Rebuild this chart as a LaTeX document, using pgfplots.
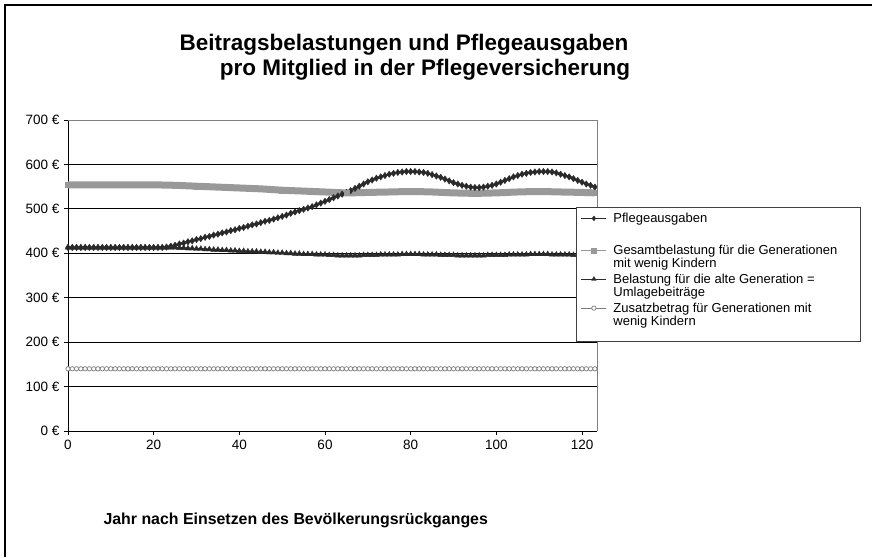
\documentclass[border=0pt]{standalone}
\usepackage{fontspec}
\setmainfont{Liberation Sans}
\usepackage{pgfplots}
\usepackage{pgfplotstable}
\pgfplotsset{compat=1.18}

\definecolor{dark}{HTML}{2A2A2A}
\definecolor{lgray}{HTML}{999999}
\definecolor{cgray}{HTML}{7A7A7A}

% x  Pflegeausgaben  Belastung alte Generation  Zusatzbetrag
\pgfplotstableread{
x P B Z
0 413 413 140
1 413 413 140
2 413 413 140
3 413 413 140
4 413 413 140
5 413 413 140
6 413 413 140
7 413 413 140
8 413 413 140
9 413 413 140
10 413 413 140
11 413 413 140
12 413 413 140
13 413 413 140
14 413 413 140
15 413 413 140
16 413 413 140
17 413 413 140
18 413 413 140
19 413 413 140
20 413 413 140
21 413 413 140
22 413 413 140
23 414 413 140
24 416 413 140
25 418 413 140
26 421 412 140
27 423 412 140
28 426 411 140
29 428 411 140
30 431 410 140
31 433 410 140
32 436 409 140
33 438 409 140
34 441 408 140
35 443 408 140
36 446 407 140
37 448 407 140
38 451 406 140
39 453 406 140
40 456 405 140
41 458 405 140
42 461 404 140
43 464 404 140
44 466 404 140
45 469 403 140
46 472 403 140
47 474 402 140
48 477 402 140
49 480 401 140
50 483 401 140
51 486 400 140
52 490 400 140
53 493 399 140
54 496 399 140
55 499 398 140
56 502 398 140
57 505 398 140
58 509 397 140
59 513 397 140
60 517 397 140
61 521 396 140
62 525 396 140
63 529 395 140
64 533 395 140
65 537 395 140
66 541 395 140
67 546 395 140
68 551 395 140
69 556 396 140
70 561 396 140
71 565 396 140
72 569 396 140
73 572 397 140
74 575 397 140
75 578 397 140
76 580 397 140
77 582 397 140
78 583 398 140
79 584 398 140
80 584 398 140
81 584 398 140
82 583 398 140
83 582 397 140
84 580 397 140
85 577 397 140
86 574 397 140
87 571 396 140
88 567 396 140
89 563 396 140
90 559 396 140
91 556 395 140
92 553 395 140
93 551 395 140
94 549 395 140
95 548 395 140
96 548 395 140
97 549 395 140
98 551 396 140
99 553 396 140
100 556 396 140
101 560 396 140
102 564 396 140
103 568 397 140
104 572 397 140
105 575 397 140
106 578 397 140
107 580 397 140
108 582 398 140
109 583 398 140
110 584 398 140
111 584 398 140
112 584 398 140
113 583 397 140
114 581 397 140
115 578 397 140
116 575 397 140
117 572 397 140
118 568 396 140
119 564 396 140
120 560 396 140
121 556 396 140
122 553 396 140
123 549 396 140
}\datatable

\begin{document}
\begin{tikzpicture}[x=1pt,y=1pt]
\useasboundingbox (0,0) rectangle (872,-557);
\draw[line width=2.5pt] (5,-557) -- (5,-5) -- (872,-5);

\node[font=\bfseries\fontsize{22.5}{24}\selectfont] at (404,-45) {Beitragsbelastungen und Pflegeausgaben};
\node[font=\bfseries\fontsize{22.5}{24}\selectfont] at (425,-70) {pro Mitglied in der Pflegeversicherung};
\node[font=\bfseries\fontsize{15.9}{18}\selectfont, anchor=west] at (100,-520) {Jahr nach Einsetzen des Bevölkerungsrückganges};

\begin{axis}[
    at={(68pt,-431pt)}, anchor=south west,
    scale only axis,
    width=529pt, height=311pt,
    xmin=0, xmax=123.5,
    ymin=0, ymax=700,
    axis lines=left,
    axis line style={-, black, line width=0.8pt},
    xtick={0,20,...,120},
    xticklabels={0,20,40,60,80,100,120},
    ytick={0,100,...,700},
    yticklabels={0 €,100 €,200 €,300 €,400 €,500 €,600 €,700 €},
    tick align=outside,
    major tick length=4pt,
    tick style={black, line width=0.8pt},
    ymajorgrids,
    grid style={black, line width=0.8pt},
    tick label style={font=\fontsize{13.5}{15}\selectfont},
    yticklabel style={xshift=-1pt},
    xticklabel style={yshift=-2pt},
    clip=false,
    legend style={at={(0.9603,0.7203)}, anchor=north west,
        draw=black!75, line width=0.8pt, fill=white,
        font=\fontsize{13}{12}\selectfont,
        cells={anchor=north west, align=left},
        nodes={inner ysep=1pt},
        row sep=2.5pt, column sep=5pt, inner xsep=3pt, inner ysep=4.3pt},
    legend image code/.code={
        \path[draw=none, fill=none, use as bounding box] (0pt,0pt) rectangle (27pt,-10pt);
        \draw[mark repeat=2,mark phase=2,#1]
        plot coordinates {(2pt,-6.7pt) (14.5pt,-6.7pt) (27pt,-6.7pt)};},
    after end axis/.code={
        \draw[gray, line width=1pt] (rel axis cs:0,1) -- (rel axis cs:1,1) -- (rel axis cs:1,0);
    },
]
\addplot[color=dark, line width=2pt, mark=diamond*, mark size=3.2pt,
    mark options={solid, line width=0.4pt},
    legend image post style={line width=0.8pt, mark size=2.4pt}]
    table[x=x, y=P] {\datatable};
\addlegendentry{Pflegeausgaben\\[4pt]\mbox{}}

\addplot[color=lgray, line width=7pt, smooth, mark=square*, mark size=2.5pt,
    mark options={line width=0.4pt},
    legend image post style={line width=0.8pt, mark size=2.5pt}]
    coordinates {(0,554) (5,554) (10,554) (15,554) (20,554) (25,553) (30,551)
    (35,549) (40,547) (45,545) (50,542) (55,540) (60,538) (65,536) (70,537)
    (75,538) (80,539) (85,538) (90,536) (95,535) (100,536) (105,538) (110,539)
    (115,538) (120,537) (123,536)};
\addlegendentry{Gesamtbelastung für die Generationen\hspace*{18pt}\\mit wenig Kindern}

\addplot[color=dark, line width=1.6pt, mark=triangle*, mark size=3.2pt,
    mark options={solid, line width=0.4pt},
    legend image post style={line width=0.8pt, mark size=2.6pt}]
    table[x=x, y=B] {\datatable};
\addlegendentry{Belastung für die alte Generation =\\Umlagebeiträge}

\addplot[color=cgray, line width=0.7pt, mark=*, mark size=2.2pt,
    mark options={fill=white, draw=cgray, line width=0.7pt},
    legend image post style={mark size=2.2pt}]
    table[x=x, y=Z] {\datatable};
\addlegendentry{Zusatzbetrag für Generationen mit\\wenig Kindern\\[-3pt]\mbox{}}
\end{axis}
\end{tikzpicture}
\end{document}
